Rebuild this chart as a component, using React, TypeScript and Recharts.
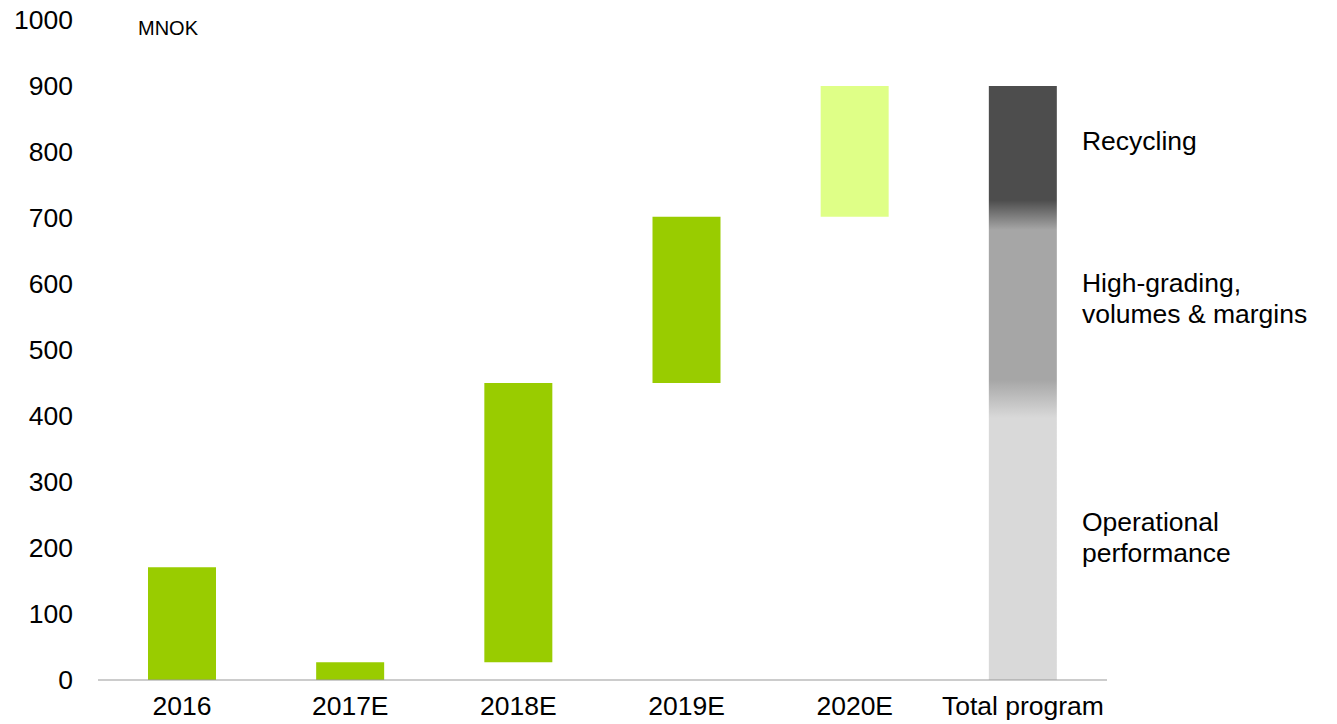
import { BarChart, Bar, XAxis, YAxis, Cell, ReferenceDot } from 'recharts';

const categories = ['2016', '2017E', '2018E', '2019E', '2020E', 'Total program'];
const lows = [0, 0, 27, 450, 702, 0];
const highs = [171, 27, 450, 702, 900, 900];
const yTicks = [0, 100, 200, 300, 400, 500, 600, 700, 800, 900, 1000];

// breakdown of the total program bar (label anchors and colour blend zones)
const segmentNames = [['Operational', 'performance'], ['High-grading,', 'volumes & margins'], ['Recycling']];
const segmentLabelAt = [215, 577, 815];
const blendLow = [397, 455];
const blendHigh = [682, 727];

const GREEN = '#99cc00';
const LIGHT_GREEN = '#dfff87';
const FONT = '"Liberation Sans", Arial, sans-serif';
const FS = 26.5;

const chartData = categories.map((name, i) => ({ name, range: [lows[i], highs[i]] }));
const total = highs[highs.length - 1];
const off = (v: number) => `${((total - v) / total) * 100}%`;

function SegmentLabel(props: any) {
  const { viewBox, lines } = props;
  const x = viewBox.x + 60;
  const y = viewBox.y;
  const lh = 31;
  const startY = y - ((lines.length - 1) * lh) / 2;
  return (
    <text x={x} y={startY} fontSize={FS} fontFamily={FONT} fill="#000" dominantBaseline="central">
      {lines.map((l: string, i: number) => (
        <tspan key={i} x={x} y={startY + i * lh}>
          {l}
        </tspan>
      ))}
    </text>
  );
}

export default function App() {
  return (
    <div style={{ position: 'absolute', left: 0, top: 0, width: 1337, height: 724, background: '#fff' }}>
      <div
        style={{
          position: 'absolute',
          left: 138,
          top: 16,
          fontSize: 20,
          fontFamily: FONT,
          color: '#000',
          lineHeight: '24px',
        }}
      >
        MNOK
      </div>
      <BarChart
        width={1337}
        height={724}
        data={chartData}
        margin={{ top: 20, right: 230, left: 0, bottom: 0 }}
        barSize={68}
      >
        <defs>
          <linearGradient id="totalGrad" x1="0" y1="0" x2="0" y2="1">
            <stop offset={off(total)} stopColor="#4d4d4d" />
            <stop offset={off(blendHigh[1])} stopColor="#4d4d4d" />
            <stop offset={off(blendHigh[0])} stopColor="#a6a6a6" />
            <stop offset={off(blendLow[1])} stopColor="#a6a6a6" />
            <stop offset={off(blendLow[0])} stopColor="#d9d9d9" />
            <stop offset="100%" stopColor="#d9d9d9" />
          </linearGradient>
        </defs>
        <XAxis
          dataKey="name"
          height={44}
          tickLine={false}
          tickSize={0}
          tickMargin={16}
          axisLine={{ stroke: '#999999', strokeWidth: 1 }}
          tick={{ fontSize: FS, fill: '#000', fontFamily: FONT }}
          interval={0}
        />
        <YAxis
          width={98}
          domain={[0, 1000]}
          ticks={yTicks}
          axisLine={false}
          tickLine={false}
          tickSize={0}
          tickMargin={25}
          tick={{ fontSize: FS, fill: '#000', fontFamily: FONT }}
          interval={0}
        />
        <Bar dataKey="range" isAnimationActive={false}>
          {chartData.map((d, i) => (
            <Cell
              key={d.name}
              fill={i === chartData.length - 1 ? 'url(#totalGrad)' : i === 4 ? LIGHT_GREEN : GREEN}
            />
          ))}
        </Bar>
        {segmentNames.map((lines, i) => (
          <ReferenceDot
            key={i}
            x="Total program"
            y={segmentLabelAt[i]}
            r={1}
            fill="none"
            stroke="none"
            label={<SegmentLabel lines={lines} />}
          />
        ))}
      </BarChart>
    </div>
  );
}
